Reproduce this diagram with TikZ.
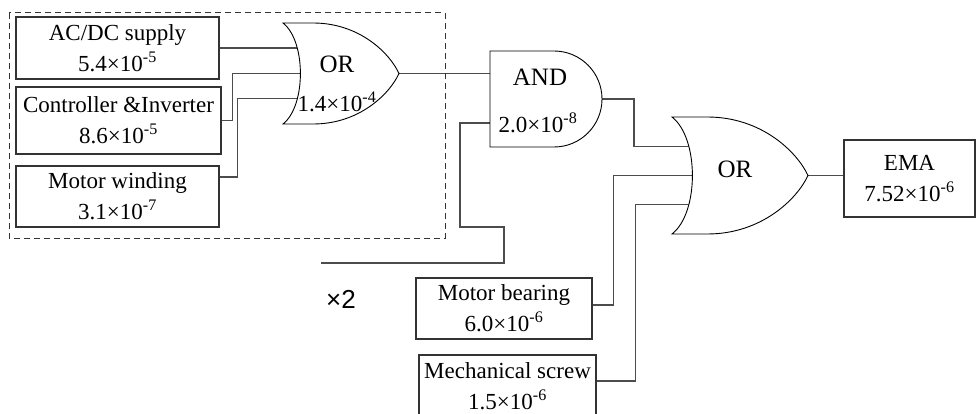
\documentclass[tikz,border=0pt]{standalone}
\usepackage{fontspec}
\setmainfont{Liberation Serif}
\newfontfamily\countfont{Liberation Sans}
\usetikzlibrary{positioning,backgrounds}

\newcommand{\rate}[2]{#1×10\textsuperscript{#2}}

\tikzset{
    % Basic event boxes
    event/.style={
        draw=black!80,
        fill=white,
        line width=1.1pt,
        align=center,
        inner sep=0pt,
        font=\fontsize{23}{31}\selectfont
    },
    % Gate captions
    gatename/.style={
        anchor=base,
        inner sep=0pt,
        font=\fontsize{25}{30}\selectfont
    },
    gaterate/.style={
        anchor=base,
        inner sep=0pt,
        font=\fontsize{23}{30}\selectfont
    },
    % Gate outlines
    gateline/.style={
        draw=black,
        fill=white,
        line width=0.9pt
    },
    % Connecting wires
    wire/.style={
        draw=black!70,
        line width=1.1pt
    },
    % Subsystem frame
    frame/.style={
        draw=black!80,
        line width=1pt,
        dash pattern=on 6pt off 4pt
    },
    % OR gate in unit size, back side at x=0
    orgate/.pic={
        \path[gateline] (0,-0.5) -- (0.26,-0.5)
            .. controls (0.66,-0.5) and (0.92,-0.2) .. (1,0)
            .. controls (0.92,0.2) and (0.66,0.5) .. (0.26,0.5)
            -- (0,0.5) .. controls (0.2,0.32) and (0.2,-0.32) .. cycle;
        \coordinate (-in1) at (0.14,0.25);
        \coordinate (-in2) at (0.16,0);
        \coordinate (-in3) at (0.14,-0.25);
        \coordinate (-out) at (1,0);
    }
}

\begin{document}
\begin{tikzpicture}[x=1pt, y=1pt]

\useasboundingbox (0,0) rectangle (976,-414);

% === MOTOR SUBSYSTEM ===
\node[event, minimum width=203pt, minimum height=62pt] (acdc) at (117.5,-48) {AC/DC supply\\\rate{5.4}{-5}};
\node[event, minimum width=205pt, minimum height=67pt] (ctrl) at (118.5,-120.5) {Controller \&Inverter\\\rate{8.6}{-5}};
\node[event, minimum width=203pt, minimum height=61pt] (winding) at (117.5,-196.5) {Motor winding\\\rate{3.1}{-7}};

\begin{scope}[shift={(283,-73.5)}, x=116pt, y=101pt]
    \pic (or1) {orgate};
\end{scope}
\node[gatename] (or1name) at (337,-73) {OR};
\node[gaterate] (or1rate) at (337,-112) {\rate{1.4}{-4}};

\draw[frame] (9,-13) rectangle (445,-238);

% === AND GATE ===
\path[gateline] (490,-51) -- (554,-51) arc[start angle=90, end angle=-90, radius=48] -- (490,-147) -- cycle;
\coordinate (and-in1) at (490,-74);
\coordinate (and-in2) at (490,-123);
\coordinate (and-out) at (602,-99);
\node[gatename] (andname) at (540,-86) {AND};
\node[gaterate] (andrate) at (538,-133) {\rate{2.0}{-8}};

% Second subsystem
\coordinate (copyend) at (321,-263);
\node[font=\countfont\fontsize{26}{30}\selectfont, inner sep=0pt] (times) at (341,-299) {×2};

% === TOP OR GATE ===
\node[event, minimum width=176pt, minimum height=61pt] (bearing) at (504,-308.5) {Motor bearing\\\rate{6.0}{-6}};
\node[event, minimum width=177pt, minimum height=62pt] (screw) at (507.5,-386) {Mechanical screw\\\rate{1.5}{-6}};

\begin{scope}[shift={(672,-175.5)}, x=136pt, y=117pt]
    \pic (or2) {orgate};
\end{scope}
\node[gatename] (or2name) at (735,-178) {OR};

\node[event, minimum width=131pt, minimum height=77pt] (ema) at (909.5,-178.5) {EMA\\\rate{7.52}{-6}};

% === WIRES ===
\begin{pgfonlayer}{background}
    \draw[wire] (acdc.east) -- (acdc.east -| or1-in1);
    \draw[wire] (ctrl.east) -- ++(11,0) |- (or1-in2);
    \draw[wire] ([yshift=19.5pt]winding.east) -- ++(18,0) |- (or1-in3);
    \draw[wire] (or1-out) -- (or1-out -| and-in1);
    \draw[wire] (and-in2) -- ++(-30,0) |- ++(44,-104) |- (copyend);
    \draw[wire] (and-out) -- ++(32,0) |- (or2-in1);
    \draw[wire] ([yshift=3.5pt]bearing.east) -- ++(21,0) |- (or2-in2);
    \draw[wire] ([yshift=5pt]screw.east) -- ++(39,0) |- (or2-in3);
    \draw[wire] (or2-out) -- (or2-out -| ema.west);
\end{pgfonlayer}

\end{tikzpicture}
\end{document}
